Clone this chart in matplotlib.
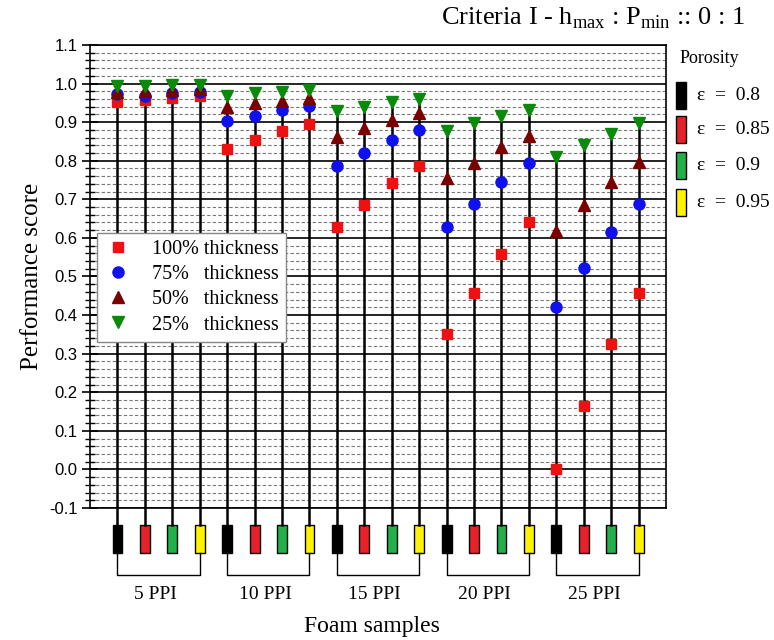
import matplotlib
matplotlib.use("Agg")
import matplotlib.pyplot as plt
import matplotlib.transforms as mtransforms
from matplotlib.patches import Rectangle
from matplotlib.ticker import MultipleLocator

# ---------------------------------------------------------------------------
# data
# ---------------------------------------------------------------------------
groups = ["5 PPI", "10 PPI", "15 PPI", "20 PPI", "25 PPI"]
porosity_labels = ["0.8", "0.85", "0.9", "0.95"]
porosity_colors = ["#000000", "#e8202a", "#22b04b", "#fff200"]

thick_100 = [0.953, 0.958, 0.963, 0.967,
             0.831, 0.854, 0.878, 0.895,
             0.627, 0.686, 0.741, 0.787,
             0.351, 0.458, 0.558, 0.640,
             0.000, 0.165, 0.326, 0.456]
thick_75 = [0.973, 0.969, 0.976, 0.979,
            0.904, 0.917, 0.932, 0.943,
            0.787, 0.820, 0.854, 0.880,
            0.627, 0.689, 0.746, 0.794,
            0.422, 0.521, 0.614, 0.689]
thick_50 = [0.979, 0.982, 0.984, 0.986,
            0.938, 0.949, 0.956, 0.962,
            0.861, 0.885, 0.906, 0.923,
            0.755, 0.795, 0.835, 0.865,
            0.618, 0.686, 0.744, 0.796]
thick_25 = [0.995, 0.995, 0.997, 0.997,
            0.969, 0.975, 0.979, 0.984,
            0.930, 0.940, 0.951, 0.960,
            0.878, 0.897, 0.917, 0.932,
            0.809, 0.842, 0.869, 0.897]

series = [
    (thick_100, "100% thickness",   "s", "#ee1111", 7),
    (thick_75,  "75%   thickness",  "o", "#1010ee", 8),
    (thick_50,  "50%   thickness",  "^", "#7a0000", 9),
    (thick_25,  "25%   thickness",  "v", "#0a8a0a", 9),
]

n = len(thick_100)
xs = list(range(1, n + 1))
sample_porosity = [i % 4 for i in range(n)]

plt.rcParams["font.family"] = ["Liberation Serif", "DejaVu Serif"]
plt.rcParams["mathtext.fontset"] = "custom"
plt.rcParams["mathtext.rm"] = "Liberation Serif"

fig = plt.figure(figsize=(7.74, 6.4), dpi=100)
ax = fig.add_axes([0.1163, 0.2063, 0.7442, 0.7234])

ax.set_xlim(0, n + 1)
ax.set_ylim(-0.1, 1.1)
ax.yaxis.set_minor_locator(MultipleLocator(0.02))
ax.set_yticks([round(-0.1 + 0.1 * i, 1) for i in range(13)])
ax.set_yticklabels([f"{-0.1 + 0.1 * i:.1f}" for i in range(13)],
                   family="Liberation Sans")
ax.set_xticks([])
ax.tick_params(axis="y", which="major", direction="inout", length=12, width=1.2,
               labelsize=12, pad=3)
ax.tick_params(axis="y", which="minor", direction="inout", length=7, width=1.0)
ax.grid(which="major", axis="y", color="black", lw=1.2)
ax.grid(which="minor", axis="y", color="#777777", lw=0.8, ls=(0, (3, 2)))
ax.set_axisbelow(True)
for sp in ax.spines.values():
    sp.set_linewidth(1.2)

# stems from the top marker down below the axes
blend = mtransforms.blended_transform_factory(ax.transData, ax.transAxes)
rect_top, rect_bot, brack_y = -0.037, -0.097, -0.145
top_vals = [max(v) for v in zip(*[s[0] for s in series])]
ax.vlines(xs, -0.1, top_vals, color="black", lw=1.8, zorder=2)
for x in xs:
    ax.plot([x, x], [0, rect_top], color="black", lw=1.8, transform=blend,
            clip_on=False)

for vals, label, mk, col, ms in series:
    ax.plot(xs, vals, ls="none", marker=mk, color=col, ms=ms, label=label,
            zorder=4, clip_on=False)

# porosity blocks under each sample
w = 0.36
for x, p in zip(xs, sample_porosity):
    ax.add_patch(Rectangle((x - w / 2, rect_bot), w, rect_top - rect_bot,
                           facecolor=porosity_colors[p], edgecolor="black",
                           lw=1.0, transform=blend, clip_on=False))

# group brackets and labels
for g, name in enumerate(groups):
    x0, x1 = xs[4 * g], xs[4 * g + 3]
    ax.plot([x0, x0, x1, x1], [rect_bot, brack_y, brack_y, rect_bot],
            color="black", lw=1.0, transform=blend, clip_on=False)
    ax.text((x0 + x1) / 2 - 0.12, -0.186, name, transform=blend, ha="center",
            va="center", fontsize=14)

ax.text(0.49, -0.255, "Foam samples", transform=ax.transAxes, ha="center",
        va="center", fontsize=17)
ax.set_ylabel("Performance score", fontsize=18, labelpad=4)

leg = ax.legend(loc="upper left", bbox_to_anchor=(0.012, 0.594), fontsize=14.5,
                frameon=True, fancybox=False, edgecolor="#888888",
                framealpha=1, handletextpad=1.0, borderpad=0.35,
                labelspacing=0.3, handlelength=1.4, borderaxespad=0)
leg.get_frame().set_linewidth(1.0)

fig.text(0.963, 0.972, r"Criteria I - h$_{\mathrm{max}}$ : P$_{\mathrm{min}}$ :: 0 : 1",
         ha="right", va="center", fontsize=19)

# porosity key on the right
fig.text(0.878, 0.908, "Porosity", ha="left", va="center", fontsize=13)
key_y = [0.851, 0.797, 0.742, 0.684]
for ky, lab, col in zip(key_y, porosity_labels, porosity_colors):
    fig.patches.append(Rectangle((0.874, ky - 0.021), 0.012, 0.042,
                                 facecolor=col, edgecolor="black", lw=1.0,
                                 transform=fig.transFigure, figure=fig))
    fig.text(0.900, ky, "\u03b5  =  " + lab, ha="left", va="center",
             fontsize=14)

fig.savefig("out.png", dpi=100)
